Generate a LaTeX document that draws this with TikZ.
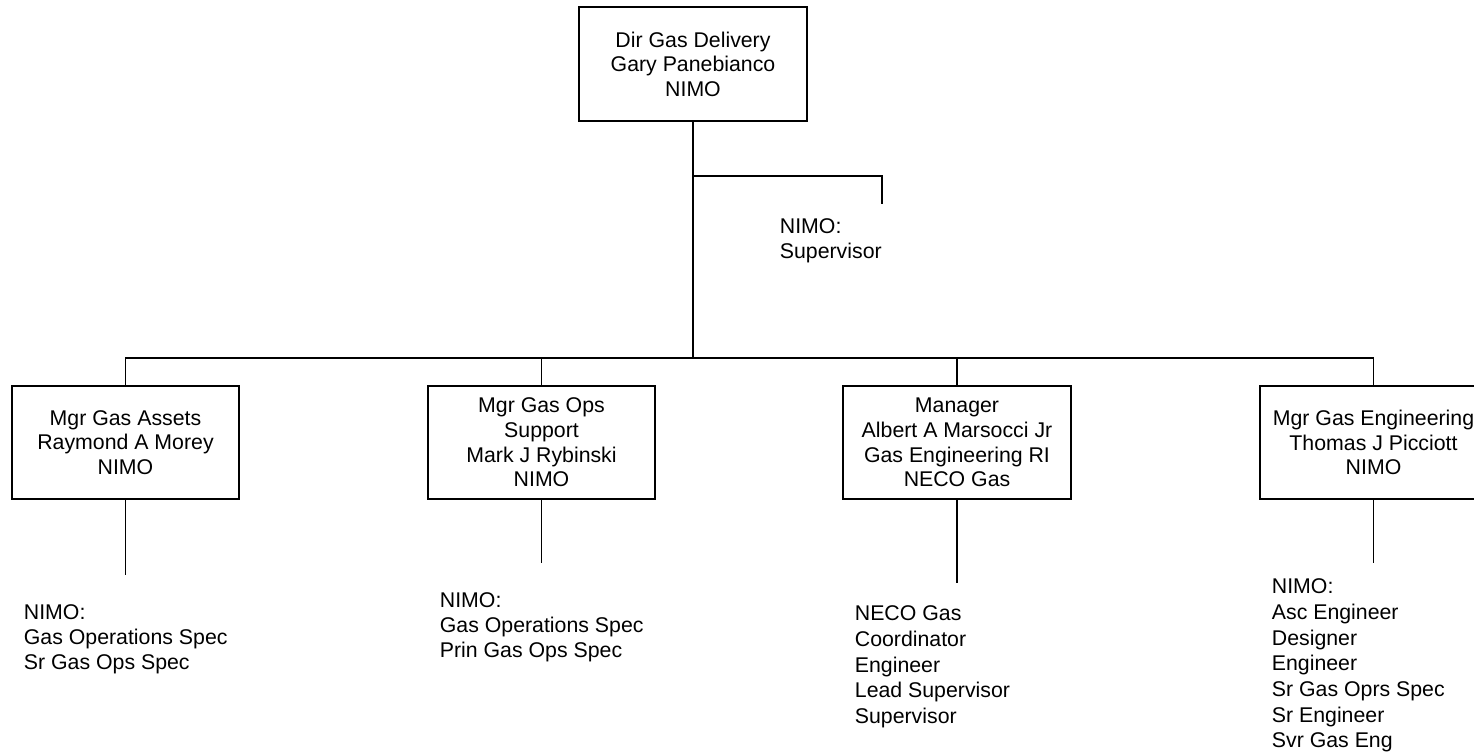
\documentclass[tikz,border=0pt]{standalone}
\usepackage{fontspec}
\setmainfont{Liberation Sans}
\begin{document}
\begin{tikzpicture}[x=1pt,y=-1pt,
  line width=1.8pt,
  orgbox/.style={draw=black,line width=1.8pt,rectangle,minimum width=227pt,minimum height=113pt,
     inner sep=0pt,align=center,font=\fontsize{21.3}{24.6}\selectfont},
  listA/.style={anchor=north west,inner sep=0pt,align=left,font=\fontsize{21.3}{25}\selectfont},
  listB/.style={anchor=north west,inner sep=0pt,align=left,font=\fontsize{21.3}{25.7}\selectfont}]
\clip (0,0) rectangle (1474,754);
\fill[white] (0,0) rectangle (1474,754);
% boxes
\node[orgbox,minimum width=228pt,minimum height=114pt] (top) at (693,64) {Dir Gas Delivery\\Gary Panebianco\\NIMO};
\node[orgbox] (b1) at (125.5,442.5) {Mgr Gas Assets\\Raymond A Morey\\NIMO};
\node[orgbox] (b2) at (541.5,442.5) {Mgr Gas Ops\\Support\\Mark J Rybinski\\NIMO};
\node[orgbox,minimum width=228pt] (b3) at (957,442.5) {Manager\\Albert A Marsocci Jr\\Gas Engineering RI\\NECO Gas};
\node[orgbox] (b4) at (1373.5,442.5) {Mgr Gas Engineering\\Thomas J Picciott\\NIMO};
% coordinates
\coordinate (j) at (693,358);
\coordinate (s1) at (693,176);
\coordinate (s2) at (882,204);
\coordinate (e1) at (125.5,575);
\coordinate (e2) at (541.5,563);
\coordinate (e3) at (957,583);
\coordinate (e4) at (1373.5,563);
% connectors
\draw (top.south) -- (j);
\draw (s1) -| (s2);
\draw (b1.north) |- (j) -| (b4.north);
\draw (b2.north) -- (b2.north |- j);
\draw (b3.north) -- (b3.north |- j);
\draw (b1.south) -- (e1);
\draw (b2.south) -- (e2);
\draw (b3.south) -- (e3);
\draw (b4.south) -- (e4);
% lists
\node[listA] (l0) at (779,218) {NIMO:\\Supervisor};
\node[listA] (l1) at (23,604) {NIMO:\\Gas Operations Spec\\Sr Gas Ops Spec};
\node[listA] (l2) at (439,592) {NIMO:\\Gas Operations Spec\\Prin Gas Ops Spec};
\node[listB] (l3) at (854,605) {NECO Gas\\Coordinator\\Engineer\\Lead Supervisor\\Supervisor};
\node[listB] (l4) at (1271,578) {NIMO:\\Asc Engineer\\Designer\\Engineer\\Sr Gas Oprs Spec\\Sr Engineer\\Svr Gas Eng};
\end{tikzpicture}
\end{document}
